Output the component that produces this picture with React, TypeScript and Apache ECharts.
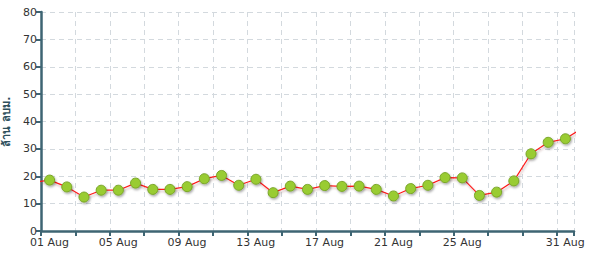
import React, { useEffect, useRef } from "react";
import * as echarts from "echarts";

// day offsets from 01 Aug 00:00 (points sit at noon)
const days: number[] = [-1, 0, 1, 2, 3, 4, 5, 6, 7, 8, 9, 10, 11, 12, 13, 14, 15, 16, 17, 18, 19, 20, 21, 22, 23, 24, 25, 26, 27, 28, 29, 30, 31];
const values: number[] = [17.7, 18.6, 16.1, 12.4, 14.9, 14.9, 17.5, 15.2, 15.2, 16.2, 19.1, 20.3, 16.7, 18.9, 14.0, 16.4, 15.2, 16.6, 16.3, 16.4, 15.2, 12.8, 15.5, 16.7, 19.5, 19.4, 13.0, 14.2, 18.3, 28.2, 32.4, 33.7, 37.6];
const labelDays: number[] = [0, 4, 8, 12, 16, 20, 24, 30];
const yTicks = { min: 0, max: 80, interval: 10 };
const yName = "ล้าน ลบม.";

export default function App() {
  const ref = useRef<HTMLDivElement>(null);
  useEffect(() => {
    document.body.style.margin = "0";
    const chart = echarts.init(ref.current!, null, { renderer: "svg" });
    const axisColor = "#3e6573";
    chart.setOption({
      animation: false,
      grid: { left: 41, right: 16, top: 12, bottom: 26, containLabel: false, outerBoundsMode: "none" },
      xAxis: {
        type: "value",
        min: 0,
        max: 31,
        interval: 2,
        axisLine: { show: true, lineStyle: { color: axisColor, width: 2.5 } },
        axisTick: { show: true, length: 5, lineStyle: { color: axisColor, width: 2 } },
        axisLabel: {
          color: "#333",
          fontFamily: "DejaVu Sans",
          fontSize: 11,
          margin: 6,
          padding: [0, 0, 0, 17],
          showMaxLabel: true,
          formatter: (v: number) => {
            const d = Math.round(v);
            if (labelDays.indexOf(d) < 0) return "";
            const n = d + 1;
            return (n < 10 ? "0" + n : "" + n) + " Aug";
          },
        },
        splitLine: { show: true, lineStyle: { color: "#d3d9de", type: [5, 4], width: 1 } },
      },
      yAxis: {
        type: "value",
        min: yTicks.min,
        max: yTicks.max,
        interval: yTicks.interval,
        name: yName,
        nameLocation: "middle",
        nameGap: 29,
        nameRotate: 90,
        nameTextStyle: { color: "#2e4f5c", fontWeight: "bold", fontSize: 11, fontFamily: "DejaVu Sans" },
        axisLine: { show: true, lineStyle: { color: axisColor, width: 2.5 } },
        axisTick: { show: true, length: 5, lineStyle: { color: axisColor, width: 2 } },
        axisLabel: { color: "#333", fontFamily: "DejaVu Sans", fontSize: 11, margin: 4 },
        splitLine: { show: true, lineStyle: { color: "#d3d9de", type: [5, 4], width: 1 } },
      },
      series: [
        {
          type: "line",
          clip: true,
          data: days.map((d, i) => [d + 0.5, values[i]]),
          symbol: "circle",
          symbolSize: 10,
          showAllSymbol: true,
          lineStyle: {
            color: "#ff1a1a",
            width: 1.2,
            shadowColor: "rgba(150,100,100,0.45)",
            shadowBlur: 2,
            shadowOffsetY: 2,
            shadowOffsetX: 1,
          },
          itemStyle: {
            color: "#99cc33",
            borderColor: "#78a526",
            borderWidth: 1,
            shadowColor: "rgba(0,0,0,0.35)",
            shadowBlur: 2,
            shadowOffsetX: 1,
            shadowOffsetY: 1.5,
          },
          z: 3,
        },
      ],
    });
    return () => chart.dispose();
  }, []);
  return <div ref={ref} style={{ width: 590, height: 257 }} />;
}
